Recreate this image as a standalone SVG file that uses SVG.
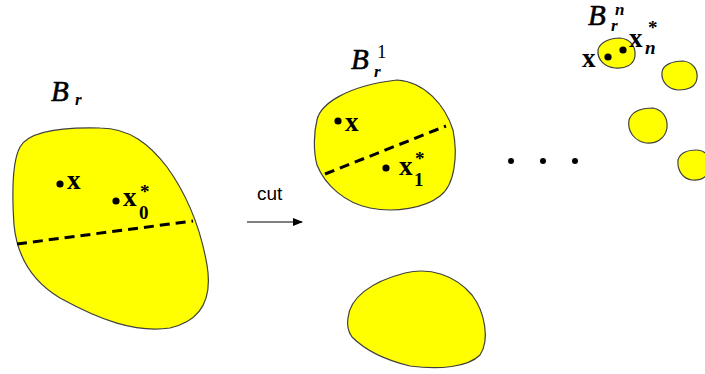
<svg xmlns="http://www.w3.org/2000/svg" width="705" height="374" viewBox="0 0 705 374">
<defs>
<style>
.blob{fill:#FFFF00;stroke:#404040;stroke-width:1.2}
.cutline{fill:none;stroke:#000;stroke-width:3;stroke-dasharray:10,6}
.pt{fill:#000}
.vx{font-family:"Liberation Serif",serif;font-weight:bold;font-size:27px;fill:#000}
.sub{font-family:"Liberation Serif",serif;font-weight:bold;font-size:19px;fill:#000}
.B{font-family:"Liberation Serif",serif;font-style:italic;font-size:29px;fill:#000;stroke:#000;stroke-width:0.6}
.Bs{font-family:"Liberation Serif",serif;font-style:italic;font-weight:bold;font-size:17px;fill:#000}
.lbl{font-family:"Liberation Sans",Arial,sans-serif;font-size:19px;fill:#000}
</style>
<marker id="ah" markerWidth="10" markerHeight="8" refX="9" refY="4" orient="auto" markerUnits="userSpaceOnUse">
<path d="M0,0 L10,4 L0,8 Z" fill="#000"/>
</marker>
</defs>
<rect width="705" height="374" fill="#fff"/>

<g id="Br">
<path class="blob" d="M20,147 C28,132 60,127 100,128 C130,128 150,145 167,167 C185,192 200,225 207,265 C212,295 205,320 170,328 C135,333 100,320 60,298 C30,280 17,255 14,225 C12,195 12,162 20,147 Z"/>
<line class="cutline" x1="17" y1="244" x2="193" y2="221"/>
<circle class="pt" cx="60" cy="184" r="3.6"/>
<text class="vx" x="67" y="189">x</text>
<circle class="pt" cx="116" cy="201" r="3.6"/>
<text class="vx" x="123" y="206">x</text>
<text class="sub" x="139" y="219">0</text>
<text class="sub" x="140" y="198">*</text>
<text class="B" x="51" y="101">B</text>
<text class="Bs" x="75" y="105">r</text>
</g>

<g id="cut">
<text class="lbl" x="257" y="200">cut</text>
<line x1="247" y1="222" x2="302" y2="222" stroke="#000" stroke-width="1" marker-end="url(#ah)"/>
</g>

<g id="Br1">
<path class="blob" d="M317,120 C320,105 345,86 397,80 C425,82 445,105 453,130 C458,155 455,185 440,196 C425,208 395,213 370,208 C345,203 325,185 317,165 C313,150 314,132 317,120 Z"/>
<line class="cutline" x1="325" y1="174" x2="446" y2="126"/>
<circle class="pt" cx="338" cy="121" r="3.6"/>
<text class="vx" x="345" y="131">x</text>
<circle class="pt" cx="386" cy="168" r="3.6"/>
<text class="vx" x="399" y="175">x</text>
<text class="sub" x="414" y="186">1</text>
<text class="sub" x="415" y="165">*</text>
<text class="B" x="351" y="69">B</text>
<text class="Bs" x="374" y="77">r</text>
<text class="sub" x="377" y="58" style="font-weight:normal">1</text>
</g>

<g id="Br2">
<path class="blob" d="M348,318 C350,298 370,282 405,273 C430,267 455,275 472,295 C485,312 490,340 480,355 C468,367 440,370 410,366 C385,360 365,350 352,337 C347,330 347,324 348,318 Z"/>
</g>

<g id="dots">
<circle class="pt" cx="511" cy="161" r="3"/>
<circle class="pt" cx="543" cy="161" r="3"/>
<circle class="pt" cx="575" cy="161" r="3"/>
</g>

<g id="Brn">
<path class="blob" d="M598,50 C600,42 610,38 620,38 C630,39 636,46 635,56 C634,65 625,69 615,68 C605,67 597,60 598,50 Z"/>
<circle class="pt" cx="608" cy="57" r="3.6"/>
<circle class="pt" cx="623" cy="50" r="3.6"/>
<text class="vx" x="582" y="67">x</text>
<text class="vx" x="629" y="47">x</text>
<text class="sub" x="645" y="54" style="font-style:italic">n</text>
<text class="sub" x="648" y="34">*</text>
<text class="B" x="588" y="25">B</text>
<text class="Bs" x="611" y="31">r</text>
<text class="Bs" x="615" y="15">n</text>
</g>

<g id="piece-a">
<path class="blob" d="M662,72 C663,65 672,61 683,61 C693,62 698,70 697,78 C696,87 688,90 678,90 C668,89 661,82 662,72 Z"/>
</g>
<g id="piece-b">
<path class="blob" d="M629,120 C632,111 642,108 653,108 C663,110 668,118 667,128 C665,139 656,144 646,143 C635,141 627,132 629,120 Z"/>
</g>
<g id="piece-c">
<path class="blob" d="M678,160 C680,153 688,150 697,150 C704,150 710,155 710,165 C710,176 702,181 692,180 C684,179 677,172 678,160 Z"/>
</g>
</svg>
